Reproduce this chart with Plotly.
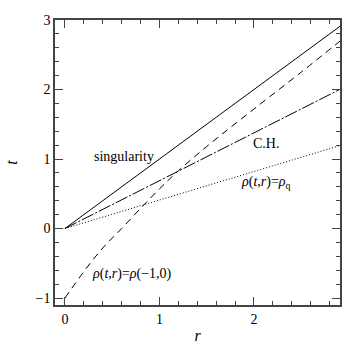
import plotly.graph_objects as go

# Data
r_line = [0.0, 2.95]
t_sing = [0.0, 2.95]          # singularity, t = r
t_ch = [0.0, 2.03]            # Cauchy horizon
t_rhoq = [0.0, 1.21]          # rho(t,r) = rho_q
r_curve = [0.0, 0.2, 0.4, 0.6, 0.8, 1.0, 1.2, 1.5, 2.0, 2.5, 2.95]
t_curve = [-1.0, -0.62, -0.28, 0.0, 0.29, 0.57, 0.83, 1.18, 1.72, 2.25, 2.74]

labels = ["singularity", "C.H.", "<i>ρ</i>(<i>t</i>,<i>r</i>)=<i>ρ</i><sub>q</sub>",
          "<i>ρ</i>(<i>t</i>,<i>r</i>)=<i>ρ</i>(−1,0)"]
label_r = [0.62, 2.13, 2.13, 0.71]
label_t = [1.03, 1.23, 0.66, -0.65]

FONT = "Liberation Serif, Times New Roman, serif"

fig = go.Figure()
fig.add_trace(go.Scatter(x=r_line, y=t_sing, mode="lines",
                         line=dict(color="black", width=1)))
fig.add_trace(go.Scatter(x=r_line, y=t_ch, mode="lines",
                         line=dict(color="black", width=1, dash="13px,2px,2px,2px")))
fig.add_trace(go.Scatter(x=r_line, y=t_rhoq, mode="lines",
                         line=dict(color="black", width=1, dash="1px,2px")))
fig.add_trace(go.Scatter(x=r_curve, y=t_curve, mode="lines", line_shape="spline",
                         line=dict(color="black", width=1, dash="7px,5px")))

for txt, x, y in zip(labels, label_r, label_t):
    fig.add_annotation(x=x, y=y, text=txt, showarrow=False,
                       font=dict(family=FONT, size=14, color="black"))

axis_common = dict(
    showgrid=False, zeroline=False, showline=True, linecolor="#444", linewidth=1.5,
    mirror="ticks", ticks="inside", ticklen=8, tickcolor="#444", tickwidth=1,
    tickfont=dict(family=FONT, size=14, color="black"), automargin=False,
    minor=dict(dtick=0.2, ticks="inside", ticklen=4, tickcolor="#444", tickwidth=1),
)

fig.update_xaxes(range=[-0.105, 2.91], tickvals=[0, 1, 2], **axis_common,
                 title=dict(text="<i>r</i>", font=dict(family=FONT, size=16, color="black"),
                            standoff=4))
fig.update_yaxes(range=[-1.1, 3.0], tickvals=[-1, 0, 1, 2, 3], ticktext=["−1", "0", "1", "2", "3"],
                 **axis_common,
                 title=dict(text="<i>t</i>", font=dict(family=FONT, size=16, color="black"),
                            standoff=14))

fig.update_layout(width=360, height=360, showlegend=False,
                  margin=dict(l=55, r=20, t=20, b=55),
                  plot_bgcolor="white", paper_bgcolor="white")

fig.write_html("out.html", config={"displayModeBar": False},
               post_script="document.body.style.margin='0px';")
